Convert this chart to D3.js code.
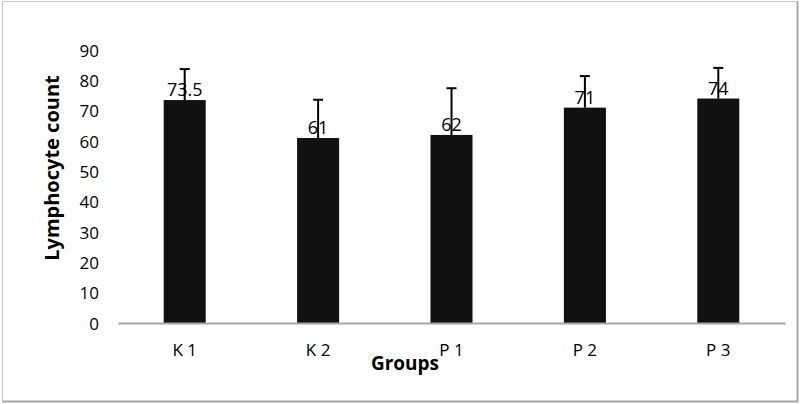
<!DOCTYPE html>
<html>
<head>
<meta charset="utf-8">
<script src="https://cdn.jsdelivr.net/npm/d3@7"></script>
<style>
  html, body { margin: 0; padding: 0; background: #fff; }
  svg text { font-family: "Open Sans", Lato, sans-serif; fill: #000; }
</style>
</head>
<body>
<svg id="chart" width="800" height="404"></svg>
<script>
// Données
const groups  = ['K 1', 'K 2', 'P 1', 'P 2', 'P 3']
const means   = [73.5, 61, 62, 71, 74]
const errors  = [10.2, 12.6, 15.4, 10.4, 10.1]
const labels  = ['73.5', '61', '62', '71', '74']
const yTicks  = [0, 10, 20, 30, 40, 50, 60, 70, 80, 90]

const W = 800, H = 404
const margin = { left: 118, right: 15, top: 50, bottom: 81 }

const svg = d3.select('#chart')

// Cadre gris autour du graphique
svg.append('rect')
  .attr('x', 2.5).attr('y', 1.5).attr('width', 795).attr('height', 400)
  .attr('fill', 'none').attr('stroke', '#c8c8c8').attr('stroke-width', 1)
svg.append('path')
  .attr('d', 'M797.5,1.5V401.5H2.5')
  .attr('fill', 'none').attr('stroke', '#a6a6a6').attr('stroke-width', 2)

const x = d3.scaleBand()
  .domain(groups)
  .range([margin.left, W - margin.right])
  .paddingInner(0.685).paddingOuter(0.3425)

const y = d3.scaleLinear()
  .domain([0, 90])
  .range([H - margin.bottom, margin.top])

// Axe Y : seulement les étiquettes
const yAxis = svg.append('g')
  .attr('transform', `translate(${margin.left - 19},0)`)
  .call(d3.axisLeft(y).tickValues(yTicks).tickSize(0).tickPadding(0))
yAxis.select('.domain').remove()
yAxis.selectAll('text')
  .attr('font-size', 17).attr('dy', '0.36em')
  .style('font-family', '"Open Sans", Lato, sans-serif')

// Barres
svg.append('g').selectAll('rect')
  .data(groups).join('rect')
  .attr('x', d => x(d))
  .attr('width', x.bandwidth())
  .attr('y', (d, i) => y(means[i]))
  .attr('height', (d, i) => y(0) - y(means[i]))
  .attr('fill', '#111')

// Étiquettes de valeur
svg.append('g').selectAll('text')
  .data(groups).join('text')
  .attr('x', d => x(d) + x.bandwidth() / 2)
  .attr('y', (d, i) => y(means[i]) - 4)
  .attr('text-anchor', 'middle')
  .attr('font-size', 18)
  .text((d, i) => labels[i])

// Barres d'erreur (vers le haut)
const eb = svg.append('g').attr('stroke', '#000').attr('stroke-width', 2)
groups.forEach((g, i) => {
  const cx = x(g) + x.bandwidth() / 2
  eb.append('line')
    .attr('x1', cx).attr('x2', cx)
    .attr('y1', y(means[i])).attr('y2', y(means[i] + errors[i]))
  eb.append('line')
    .attr('x1', cx - 5).attr('x2', cx + 5)
    .attr('y1', y(means[i] + errors[i])).attr('y2', y(means[i] + errors[i]))
})

// Axe X
const xAxis = svg.append('g')
  .attr('transform', `translate(0,${y(0)})`)
  .call(d3.axisBottom(x).tickSize(0).tickPadding(21))
xAxis.select('.domain').attr('stroke', '#a6a6a6').attr('stroke-width', 2)
xAxis.selectAll('text')
  .attr('font-size', 17)
  .style('font-family', '"Open Sans", Lato, sans-serif')

// Titres des axes
svg.append('text')
  .attr('x', 405).attr('y', 370)
  .attr('text-anchor', 'middle')
  .attr('font-size', 19).attr('font-weight', 'bold')
  .text('Groups')

svg.append('text')
  .attr('transform', 'translate(59,168) rotate(-90)')
  .attr('text-anchor', 'middle')
  .attr('font-size', 20).attr('font-weight', 'bold')
  .text('Lymphocyte count')
</script>
</body>
</html>
